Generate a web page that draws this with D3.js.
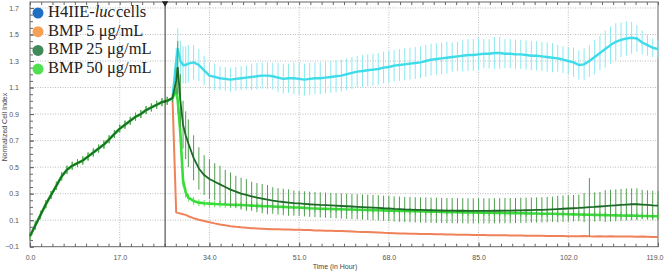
<!DOCTYPE html>
<html lang="en">
<head>
    <meta charset="UTF-8">
    <title>Normalized Cell Index</title>
    <style>
        body, html { margin: 0; padding: 0; background: #fff; overflow: hidden; }
        .tick text { font-family: "Liberation Sans", Arial, sans-serif; font-size: 7px; fill: #555; }
        .tick line { stroke: #666; }
        .legend text { font-family: "Liberation Serif", serif; font-size: 16.5px; fill: #222; }
    </style>
    <script src="https://d3js.org/d3.v7.min.js"></script>
</head>
<body>
    <div id="chart"></div>
    <script>
        // pre-treatment growth, shared by all wells
        const preHours = [0, 1, 2, 3, 4, 5, 6, 7, 8, 9, 10, 11, 12, 13, 14, 15, 16, 17, 18, 19, 20, 21, 22, 23, 24, 25, 26, 27];
        const baseline = [-0.02, 0.06, 0.14, 0.22, 0.29, 0.36, 0.43, 0.48, 0.51, 0.53, 0.55, 0.58, 0.61, 0.64, 0.67, 0.71, 0.75, 0.79, 0.82, 0.85, 0.88, 0.90, 0.93, 0.95, 0.97, 0.99, 1.00, 1.02];
        const baselineErr = 0.03;

        const postHours = [27.7, 28, 28.5, 29, 29.5,
            30, 31, 32, 33, 34, 35, 36, 37, 38, 39,
            40, 41, 42, 43, 44, 45, 46, 47, 48, 49,
            50, 51, 52, 53, 54, 55, 56, 57, 58, 59,
            60, 61, 62, 63, 64, 65, 66, 67, 68, 69,
            70, 71, 72, 73, 74, 75, 76, 77, 78, 79,
            80, 81, 82, 83, 84, 85, 86, 87, 88, 89,
            90, 91, 92, 93, 94, 95, 96, 97, 98, 99,
            100, 101, 102, 103, 104, 105, 106, 107, 108, 109,
            110, 111, 112, 113, 114, 115, 116, 117, 118, 119];

        const cells = [1.30, 1.39, 1.30, 1.27, 1.27,
            1.28, 1.29, 1.27, 1.23, 1.19, 1.18, 1.17, 1.165, 1.16, 1.165,
            1.17, 1.175, 1.18, 1.185, 1.19, 1.19, 1.185, 1.175, 1.165, 1.17,
            1.17, 1.165, 1.16, 1.165, 1.17, 1.17, 1.175, 1.18, 1.185, 1.19,
            1.20, 1.21, 1.22, 1.225, 1.23, 1.235, 1.24, 1.25, 1.255, 1.265,
            1.27, 1.275, 1.28, 1.285, 1.29, 1.30, 1.31, 1.315, 1.32, 1.325,
            1.33, 1.335, 1.34, 1.345, 1.345, 1.35, 1.355, 1.355, 1.36, 1.36,
            1.355, 1.355, 1.35, 1.35, 1.345, 1.34, 1.34, 1.335, 1.33, 1.325,
            1.32, 1.31, 1.30, 1.29, 1.27, 1.275, 1.30, 1.33, 1.36, 1.39,
            1.42, 1.445, 1.46, 1.47, 1.475, 1.47, 1.44, 1.42, 1.40, 1.39];
        const cellsErr = [0.10, 0.16, 0.15, 0.14, 0.14,
            0.14, 0.13, 0.12, 0.11, 0.10, 0.10, 0.09, 0.09, 0.09, 0.09,
            0.09, 0.09, 0.10, 0.10, 0.10, 0.10, 0.10, 0.11, 0.11, 0.11,
            0.12, 0.12, 0.12, 0.12, 0.12, 0.12, 0.12, 0.12, 0.12, 0.12,
            0.12, 0.12, 0.12, 0.12, 0.12, 0.12, 0.12, 0.12, 0.12, 0.12,
            0.12, 0.12, 0.12, 0.12, 0.12, 0.12, 0.12, 0.12, 0.12, 0.12,
            0.11, 0.11, 0.12, 0.12, 0.12, 0.12, 0.11, 0.11, 0.12, 0.12,
            0.11, 0.11, 0.11, 0.11, 0.11, 0.11, 0.11, 0.11, 0.11, 0.11,
            0.10, 0.10, 0.10, 0.11, 0.11, 0.12, 0.12, 0.13, 0.13, 0.14,
            0.14, 0.14, 0.13, 0.13, 0.12, 0.10, 0.09, 0.08, 0.07, 0.07];

        const bmp5 = [0.16, 0.155, 0.15, 0.145, 0.14,
            0.13, 0.115, 0.103, 0.094, 0.085, 0.076, 0.068, 0.061, 0.055, 0.05,
            0.046, 0.043, 0.04, 0.038, 0.036, 0.034, 0.032, 0.031, 0.03, 0.029,
            0.028, 0.027, 0.026, 0.025, 0.023, 0.022, 0.021, 0.02, 0.019, 0.018,
            0.016, 0.014, 0.012, 0.011, 0.01, 0.009, 0.007, 0.005, 0.004, 0.002,
            0.0, 0.0, -0.002, -0.003, -0.004, -0.005, -0.005, -0.006, -0.007, -0.008,
            -0.008, -0.009, -0.01, -0.01, -0.011, -0.012, -0.012, -0.013, -0.013, -0.014,
            -0.014, -0.015, -0.015, -0.016, -0.017, -0.017, -0.018, -0.018, -0.019, -0.019,
            -0.02, -0.02, -0.021, -0.021, -0.022, -0.02, -0.022, -0.023, -0.021, -0.023,
            -0.022, -0.023, -0.024, -0.023, -0.024, -0.025, -0.024, -0.025, -0.026, -0.026];

        const bmp25 = [1.15, 1.25, 1.00, 0.82, 0.74,
            0.68, 0.57, 0.49, 0.44, 0.41, 0.39, 0.37, 0.35, 0.33, 0.315,
            0.30, 0.29, 0.28, 0.27, 0.262, 0.255, 0.248, 0.242, 0.237, 0.233,
            0.229, 0.226, 0.223, 0.22, 0.218, 0.215, 0.213, 0.211, 0.209, 0.207,
            0.205, 0.203, 0.201, 0.199, 0.197, 0.195, 0.193, 0.19, 0.188, 0.185,
            0.183, 0.181, 0.18, 0.178, 0.177, 0.176, 0.175, 0.174, 0.173, 0.172,
            0.172, 0.171, 0.171, 0.17, 0.17, 0.17, 0.17, 0.17, 0.171, 0.171,
            0.172, 0.172, 0.173, 0.174, 0.175, 0.176, 0.177, 0.178, 0.18, 0.182,
            0.184, 0.186, 0.188, 0.19, 0.192, 0.195, 0.198, 0.20, 0.203, 0.206,
            0.209, 0.212, 0.215, 0.218, 0.22, 0.22, 0.218, 0.215, 0.212, 0.21];
        const bmp25Err = [0.10, 0.20, 0.20, 0.18, 0.18,
            0.18, 0.17, 0.16, 0.15, 0.15, 0.14, 0.14, 0.13, 0.13, 0.12,
            0.12, 0.12, 0.11, 0.11, 0.11, 0.11, 0.10, 0.10, 0.10, 0.10,
            0.095, 0.095, 0.095, 0.095, 0.095, 0.095, 0.095, 0.095, 0.095, 0.095,
            0.095, 0.095, 0.095, 0.095, 0.095, 0.095, 0.095, 0.095, 0.095, 0.095,
            0.095, 0.095, 0.095, 0.095, 0.095, 0.095, 0.095, 0.095, 0.095, 0.095,
            0.095, 0.095, 0.095, 0.095, 0.095, 0.095, 0.095, 0.095, 0.095, 0.095,
            0.095, 0.095, 0.095, 0.095, 0.095, 0.095, 0.095, 0.095, 0.095, 0.095,
            0.10, 0.10, 0.10, 0.10, 0.10, 0.11, 0.22, 0.11, 0.11, 0.12,
            0.12, 0.12, 0.12, 0.12, 0.12, 0.12, 0.11, 0.11, 0.11, 0.11];

        const bmp50 = [1.08, 1.00, 0.75, 0.40, 0.31,
            0.27, 0.245, 0.232, 0.228, 0.225, 0.222, 0.22, 0.218, 0.216, 0.215,
            0.214, 0.212, 0.21, 0.208, 0.206, 0.205, 0.203, 0.201, 0.20, 0.198,
            0.196, 0.195, 0.193, 0.19, 0.188, 0.186, 0.185, 0.184, 0.183, 0.182,
            0.181, 0.18, 0.179, 0.178, 0.177, 0.176, 0.175, 0.174, 0.172, 0.171,
            0.17, 0.169, 0.168, 0.167, 0.166, 0.165, 0.164, 0.163, 0.162, 0.161,
            0.16, 0.16, 0.159, 0.158, 0.158, 0.157, 0.156, 0.156, 0.155, 0.154,
            0.154, 0.153, 0.152, 0.152, 0.151, 0.15, 0.15, 0.149, 0.148, 0.148,
            0.147, 0.146, 0.145, 0.144, 0.143, 0.142, 0.141, 0.14, 0.139, 0.138,
            0.137, 0.136, 0.135, 0.134, 0.134, 0.133, 0.132, 0.131, 0.13, 0.13];
        const bmp50Err = [0.05, 0.10, 0.08, 0.05, 0.04,
            0.03, 0.03, 0.025, 0.025, 0.025, 0.025, 0.025, 0.025, 0.025, 0.025,
            0.025, 0.025, 0.025, 0.025, 0.025, 0.025, 0.025, 0.025, 0.025, 0.025,
            0.025, 0.025, 0.025, 0.025, 0.025, 0.025, 0.025, 0.025, 0.025, 0.025,
            0.025, 0.025, 0.025, 0.025, 0.025, 0.025, 0.025, 0.025, 0.025, 0.025,
            0.025, 0.025, 0.025, 0.025, 0.025, 0.025, 0.025, 0.025, 0.025, 0.025,
            0.025, 0.025, 0.025, 0.025, 0.025, 0.025, 0.025, 0.025, 0.025, 0.025,
            0.025, 0.025, 0.025, 0.025, 0.025, 0.025, 0.025, 0.025, 0.025, 0.025,
            0.025, 0.025, 0.025, 0.025, 0.025, 0.025, 0.025, 0.025, 0.025, 0.025,
            0.025, 0.025, 0.025, 0.025, 0.025, 0.025, 0.025, 0.025, 0.025, 0.025];

        const treatmentHour = 25.6;
        const xTicks = [0, 17, 34, 51, 68, 85, 102, 119];
        const yTicks = [-0.1, 0.1, 0.3, 0.5, 0.7, 0.9, 1.1, 1.3, 1.5, 1.7];

        const width = 664, height = 273;
        const x = d3.scaleLinear().domain([0, 119]).range([30, 658]);
        const y = d3.scaleLinear().domain([-0.1, 1.745]).range([246.7, 2]);

        const svg = d3.select("#chart").append("svg")
            .attr("width", width)
            .attr("height", height);

        // dotted grid
        svg.append("g").selectAll("line")
            .data(xTicks.slice(1, -1)).enter().append("line")
            .attr("x1", d => x(d)).attr("x2", d => x(d))
            .attr("y1", y.range()[1]).attr("y2", y.range()[0])
            .attr("stroke", "#bdbdbd").attr("stroke-dasharray", "1,1.5");
        svg.append("g").selectAll("line")
            .data(yTicks.slice(1)).enter().append("line")
            .attr("x1", x.range()[0]).attr("x2", x.range()[1])
            .attr("y1", d => y(d)).attr("y2", d => y(d))
            .attr("stroke", "#bdbdbd").attr("stroke-dasharray", "1,1.5");

        // axes with inward ticks
        const minorX = d3.range(0, 119.01, 17 / 8);
        const minorY = d3.range(-0.1, 1.745, 0.05);
        svg.append("g").attr("transform", `translate(0,${y.range()[0]})`)
            .call(d3.axisBottom(x).tickValues(xTicks).tickFormat(d3.format(".1f")).tickSize(-4).tickPadding(8))
            .call(g => g.select(".domain").remove())
            .call(g => g.selectAll(".tick:last-of-type text").attr("text-anchor", "end").attr("dx", 5));
        svg.append("g").attr("transform", `translate(0,${y.range()[0]})`)
            .call(d3.axisBottom(x).tickValues(minorX).tickFormat("").tickSize(-3))
            .call(g => g.select(".domain").remove());
        svg.append("g").attr("transform", `translate(0,${y.range()[1]})`)
            .call(d3.axisTop(x).tickValues(minorX).tickFormat("").tickSize(-3))
            .call(g => g.select(".domain").remove());
        svg.append("g").attr("transform", `translate(${x.range()[0]},0)`)
            .call(d3.axisLeft(y).tickValues(yTicks).tickFormat(d3.format(".1f")).tickSize(-4).tickPadding(11))
            .call(g => g.select(".domain").remove());
        svg.append("g").attr("transform", `translate(${x.range()[0]},0)`)
            .call(d3.axisLeft(y).tickValues(minorY).tickFormat("").tickSize(-3))
            .call(g => g.select(".domain").remove());

        svg.append("rect")
            .attr("x", x.range()[0]).attr("y", y.range()[1])
            .attr("width", x.range()[1] - x.range()[0])
            .attr("height", y.range()[0] - y.range()[1])
            .attr("fill", "none").attr("stroke", "#666");

        // build series
        const pre = preHours.map((t, i) => ({ t, v: baseline[i], e: baselineErr }));
        const build = (vals, errs) => pre.concat(postHours.map((t, i) => ({ t, v: vals[i], e: errs ? errs[i] : 0 })));

        const series = [
            { name: "cells", data: build(cells, cellsErr), line: "#3fdbe8", bar: "#8be9f1", w: 2.4 },
            { name: "bmp5", data: build(bmp5, null), line: "#f0825a", bar: "#f7b49a", w: 2 },
            { name: "bmp50", data: build(bmp50, bmp50Err), line: "#38de38", bar: "#5fe65f", w: 2.6 },
            { name: "bmp25", data: build(bmp25, bmp25Err), line: "#1d6a27", bar: "#4f9e4f", w: 1.8 }
        ];

        const line = d3.line().x(d => x(d.t)).y(d => y(d.v));
        const plot = svg.append("g");

        series.forEach(s => {
            plot.append("g").selectAll("line")
                .data(s.data.filter(d => d.e > 0)).enter().append("line")
                .attr("x1", d => x(d.t)).attr("x2", d => x(d.t))
                .attr("y1", d => y(d.v - d.e)).attr("y2", d => y(d.v + d.e))
                .attr("stroke", s.bar).attr("stroke-width", 1);
            plot.append("path")
                .datum(s.data)
                .attr("d", line)
                .attr("fill", "none")
                .attr("stroke", s.line)
                .attr("stroke-width", s.w)
                .attr("stroke-linejoin", "round");
        });

        // treatment marker
        svg.append("line")
            .attr("x1", x(treatmentHour)).attr("x2", x(treatmentHour))
            .attr("y1", y.range()[1]).attr("y2", y.range()[0])
            .attr("stroke", "#333").attr("stroke-width", 1);
        svg.append("path")
            .attr("d", d3.symbol(d3.symbolTriangle, 18)())
            .attr("transform", `translate(${x(treatmentHour)},3) rotate(180)`)
            .attr("fill", "#222");

        // axis titles
        svg.append("text")
            .attr("x", 335).attr("y", 269)
            .attr("text-anchor", "middle")
            .style("font-family", "Liberation Sans, Arial, sans-serif")
            .style("font-size", "7px").style("fill", "#444")
            .text("Time (in Hour)");
        svg.append("text")
            .attr("transform", "translate(7,127) rotate(-90)")
            .attr("text-anchor", "middle")
            .style("font-family", "Liberation Sans, Arial, sans-serif")
            .style("font-size", "7px").style("fill", "#444")
            .text("Normalized Cell Index");

        // legend
        const legendColors = ["#1f6fc3", "#f5a052", "#3f8a57", "#4fe04f"];
        const legendLabels = ["H4IIE-", "BMP 5 μg/mL", "BMP 25 μg/mL", "BMP 50 μg/mL"];
        const legend = svg.append("g").attr("class", "legend");
        legendLabels.forEach((lab, i) => {
            const by = 17 + i * 18.7;
            legend.append("circle")
                .attr("cx", 38).attr("cy", by - 4).attr("r", 5.5)
                .attr("fill", legendColors[i]);
            const t = legend.append("text").attr("x", 48).attr("y", by);
            t.append("tspan").text(lab);
            if (i === 0) {
                t.append("tspan").style("font-style", "italic").text("luc");
                t.append("tspan").attr("dx", 1).text("cells");
            }
        });
    </script>
</body>
</html>
